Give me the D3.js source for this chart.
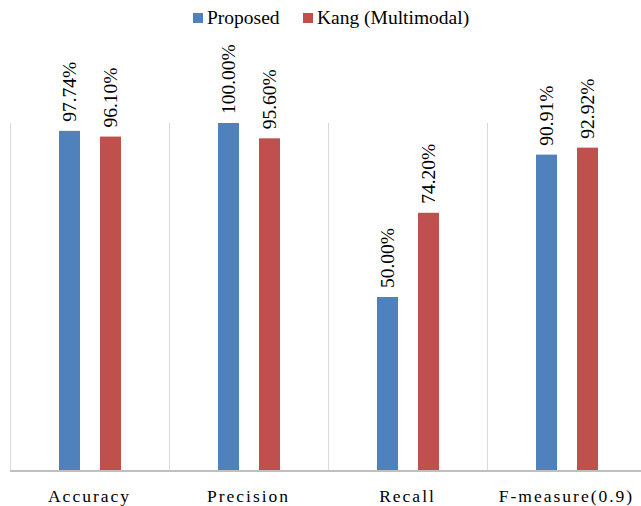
<!DOCTYPE html>
<html>
<head>
<meta charset="utf-8">
<script src="https://cdn.jsdelivr.net/npm/d3@7"></script>
<style>
  html, body { margin: 0; padding: 0; background: #fff; }
  svg { display: block; }
</style>
</head>
<body>
<svg id="chart" width="641" height="506"></svg>
<script>
// Metrics compared between the two methods (percent)
const categories = ["Accuracy", "Precision", "Recall", "F-measure(0.9)"];
const seriesNames = ["Proposed", "Kang (Multimodal)"];
const proposed = [97.74, 100.00, 50.00, 90.91];
const kang = [96.10, 95.60, 74.20, 92.92];
const colors = ["#4F81BD", "#C0504D"];

const FONT = "'Liberation Serif', 'Times New Roman', Times, serif";
const W = 641, H = 506;
const plotLeft = 10, plotRight = 646, plotTop = 123, plotBottom = 471;

const svg = d3.select("#chart");

const x0 = d3.scaleBand()
  .domain(categories)
  .range([plotLeft, plotRight]);

// Two bars per category, centred in each band
const x1 = d3.scaleBand()
  .domain(seriesNames)
  .range([49, 111])
  .paddingInner(0.488)
  .paddingOuter(0);

const y = d3.scaleLinear().domain([0, 100]).range([plotBottom, plotTop]);

// Vertical category separators
const seps = categories.map(c => x0(c)).concat([x0.range()[1]]);
svg.append("g").selectAll("line").data(seps).join("line")
  .attr("x1", d => Math.round(d) + 0.5).attr("x2", d => Math.round(d) + 0.5)
  .attr("y1", y(100)).attr("y2", y(0))
  .attr("stroke", "#d9d9d9").attr("stroke-width", 1);

// Bars
const rows = categories.map((c, i) => ({ cat: c, vals: [proposed[i], kang[i]] }));
const groups = svg.append("g").selectAll("g").data(rows).join("g")
  .attr("transform", d => `translate(${x0(d.cat)},0)`);

const cells = d => d.vals.map((v, j) => ({ name: seriesNames[j], v, j }));

groups.selectAll("rect").data(cells).join("rect")
  .attr("x", d => x1(d.name))
  .attr("width", x1.bandwidth())
  .attr("y", d => y(d.v))
  .attr("height", d => y(0) - y(d.v))
  .attr("fill", d => colors[d.j]);

// Value labels, rotated
groups.selectAll("text.val").data(cells).join("text")
  .attr("class", "val")
  .attr("transform", d => `translate(${x1(d.name) + x1.bandwidth() / 2 + 6.5},${y(d.v) - 9}) rotate(-90)`)
  .attr("text-anchor", "start")
  .attr("font-family", FONT)
  .attr("font-size", 19.5)
  .attr("fill", "#000")
  .text(d => d.v.toFixed(2) + "%");

// Baseline axis
const xAxis = d3.axisBottom(x0).tickSize(0).tickPadding(19);
const ax = svg.append("g")
  .attr("transform", `translate(0,${y(0)})`)
  .call(xAxis);
ax.select(".domain").attr("stroke", "#bfbfbf").attr("stroke-width", 2)
  .attr("d", `M${plotLeft},0H${W}`);
ax.selectAll(".tick text")
  .attr("font-family", FONT)
  .attr("font-size", 17.5)
  .attr("letter-spacing", "2px")
  .attr("fill", "#000");

// Legend
const legendItems = [
  { name: seriesNames[0], color: colors[0], x: 193 },
  { name: seriesNames[1], color: colors[1], x: 303 }
];
const lg = svg.append("g").selectAll("g").data(legendItems).join("g")
  .attr("transform", d => `translate(${d.x},13)`);
lg.append("rect").attr("width", 10).attr("height", 10).attr("fill", d => d.color);
lg.append("text").attr("x", 14).attr("y", 11)
  .attr("font-family", FONT)
  .attr("font-size", 19.5)
  .attr("fill", "#000")
  .text(d => d.name);
</script>
</body>
</html>
